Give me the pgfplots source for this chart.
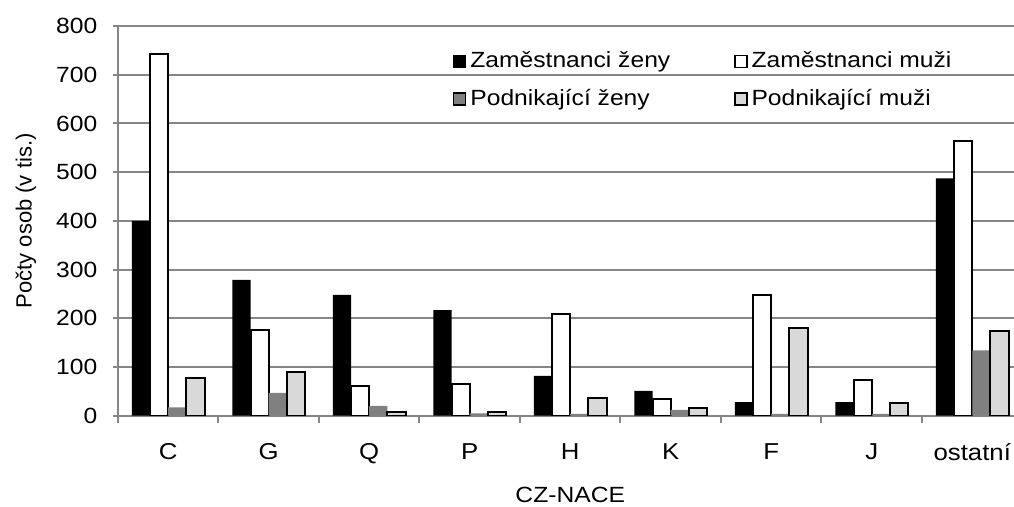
\documentclass[border=0pt]{standalone}
\usepackage{fontspec}
\setmainfont{Liberation Sans}[FakeStretch=1.12]
\newfontfamily\plainsans{Liberation Sans}
\usepackage{pgfplots}
\usepackage{pgfplotstable}
\pgfplotsset{compat=1.18}

\definecolor{gridgray}{HTML}{868686}
\definecolor{darkbar}{HTML}{808080}
\definecolor{lightbar}{HTML}{D9D9D9}

% CZ-NACE sections, thousands of persons
\pgfplotstableread{
x zf  zm  pf  pm
0 400 742 17  77
1 279 177 47  89
2 248 62  20  7
3 217 65  5   7
4 82  208 4   36
5 51  35  12  15
6 28  247 4   181
7 28  73  4   27
8 487 563 134 173
}\nace

\begin{document}
\fontsize{11}{13.2}\selectfont
\begin{tikzpicture}
\begin{axis}[
  scale only axis,
  width=452.25pt, height=194.85pt,
  xmin=-0.5, xmax=8.5, ymin=0, ymax=800,
  ybar=0pt, bar width=9.1pt,
  legend image code/.code={\draw[#1,line width=0.6pt] (0pt,-3pt) rectangle (6pt,3pt);},
  axis x line*=bottom, axis y line*=left,
  axis line style={gridgray, line width=1pt},
  xtick={0,...,8},
  xticklabels={C,G,Q,P,H,K,F,J,ostatní},
  minor xtick={-0.5,0.5,...,8.5},
  major x tick style={draw=none},
  ytick={0,100,...,800},
  tick align=outside,
  major tick length=2.5pt, minor tick length=3.5pt,
  tick style={gridgray, line width=1pt},
  ymajorgrids,
  major grid style={gridgray, line width=1pt},
  /pgf/number format/assume math mode=true,
  tick label style={font=\fontsize{11}{13.2}\selectfont},
  yticklabel style={xshift=-4pt},
  xticklabel style={font=\fontsize{11.5}{13.5}\selectfont, yshift=-7.5pt},
  ylabel={\plainsans Počty osob (v tis.)},
  xlabel={CZ-NACE},
  label style={font=\fontsize{11}{13.2}\selectfont},
  ylabel style={at={(axis description cs:-0.1017,0.5)}, anchor=center},
  xlabel style={at={(axis description cs:0.5,-0.2035)}, anchor=center},
  legend columns=2,
  legend cell align=left,
  legend style={at={(rel axis cs:0.3635,0.955)}, anchor=north west,
    draw=none, fill=none, font=\fontsize{11}{13.2}\selectfont,
    row sep=5pt,
    /tikz/every even column/.append style={column sep=30pt}},
]
\addplot[fill=black, draw=none] table[x=x, y=zf] {\nace};
\addplot[fill=white, draw=black, line width=1pt] table[x=x, y=zm] {\nace};
\addplot[fill=darkbar, draw=none] table[x=x, y=pf] {\nace};
\addplot[fill=lightbar, draw=black, line width=1pt] table[x=x, y=pm] {\nace};
\legend{Zaměstnanci ženy, Zaměstnanci muži, Podnikající ženy, Podnikající muži}
\coordinate (bbSW) at (axis cs:-1.674,-185.4);
\coordinate (bbNE) at (axis cs:8.4154,853.4);
\end{axis}
\pgfresetboundingbox
\useasboundingbox (bbSW) rectangle (bbNE);
\end{tikzpicture}
\end{document}
